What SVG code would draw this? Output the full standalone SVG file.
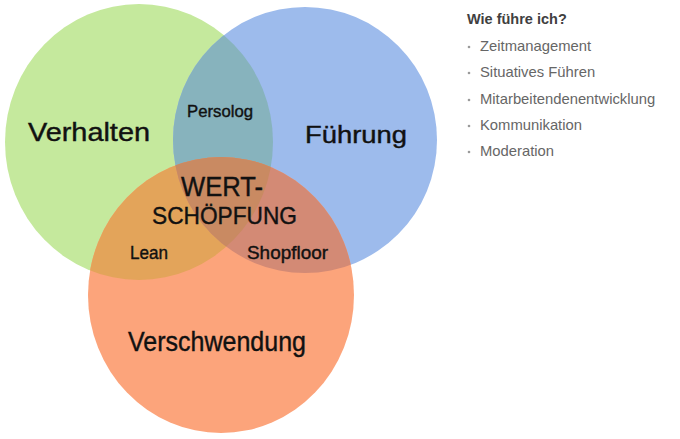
<svg xmlns="http://www.w3.org/2000/svg" width="680" height="439" viewBox="0 0 680 439">
<style>
.hand{font-family:"Liberation Sans","DejaVu Sans",sans-serif;fill:#111;stroke:#111;stroke-width:0.4;}
.title{font-family:"Liberation Sans",Arial,sans-serif;font-size:14.5px;font-weight:bold;fill:#404040;}
.item{font-family:"Liberation Sans",Arial,sans-serif;font-size:14.8px;fill:#666;}
.dot{fill:#9a9a9a;}
</style>
<defs>
<ellipse id="cG" cx="139" cy="142" rx="134" ry="138"/>
<ellipse id="cB" cx="305" cy="140" rx="132" ry="133"/>
<ellipse id="cO" cx="221" cy="295" rx="133" ry="138"/>
<clipPath id="clipG"><use href="#cG"/></clipPath>
<clipPath id="clipB"><use href="#cB"/></clipPath>
<clipPath id="clipO"><use href="#cO"/></clipPath>
</defs>
<rect width="680" height="439" fill="#ffffff"/>
<g id="verhalten">
<use href="#cG" fill="#c5e99d"/>
</g>
<g id="fuehrung">
<use href="#cB" fill="#9dbbec"/>
</g>
<g id="verschwendung">
<use href="#cO" fill="#fca47b"/>
</g>
<g id="overlaps">
<g clip-path="url(#clipG)"><use href="#cB" fill="#87b3bd"/></g>
<g clip-path="url(#clipG)"><use href="#cO" fill="#e3a45a"/></g>
<g clip-path="url(#clipB)"><use href="#cO" fill="#d38a75"/></g>
<g clip-path="url(#clipB)"><g clip-path="url(#clipG)"><use href="#cO" fill="#c98a62"/></g></g>
</g>
<g id="labels">
<text class="hand" x="28" y="141" font-size="25" textLength="122" lengthAdjust="spacingAndGlyphs">Verhalten</text>
<text class="hand" x="305" y="143" font-size="23" textLength="102" lengthAdjust="spacingAndGlyphs">Führung</text>
<text class="hand" x="187" y="117" font-size="17" textLength="66" lengthAdjust="spacingAndGlyphs">Persolog</text>
<text class="hand" x="181" y="196" font-size="28" textLength="82" lengthAdjust="spacingAndGlyphs">WERT-</text>
<text class="hand" x="152" y="224" font-size="24" textLength="145" lengthAdjust="spacingAndGlyphs">SCHÖPFUNG</text>
<text class="hand" x="130" y="259" font-size="19" textLength="38" lengthAdjust="spacingAndGlyphs">Lean</text>
<text class="hand" x="247" y="259" font-size="18" textLength="81" lengthAdjust="spacingAndGlyphs">Shopfloor</text>
<text class="hand" x="128" y="351" font-size="28" textLength="178" lengthAdjust="spacingAndGlyphs">Verschwendung</text>
</g>
<g id="list">
<text class="title" x="467" y="24">Wie führe ich?</text>
<circle class="dot" cx="469" cy="47" r="1.3"/>
<text class="item" x="480" y="51">Zeitmanagement</text>
<circle class="dot" cx="469" cy="73" r="1.3"/>
<text class="item" x="480" y="77">Situatives Führen</text>
<circle class="dot" cx="469" cy="100" r="1.3"/>
<text class="item" x="480" y="104">Mitarbeitendenentwicklung</text>
<circle class="dot" cx="469" cy="126" r="1.3"/>
<text class="item" x="480" y="130">Kommunikation</text>
<circle class="dot" cx="469" cy="152" r="1.3"/>
<text class="item" x="480" y="156">Moderation</text>
</g>
</svg>
